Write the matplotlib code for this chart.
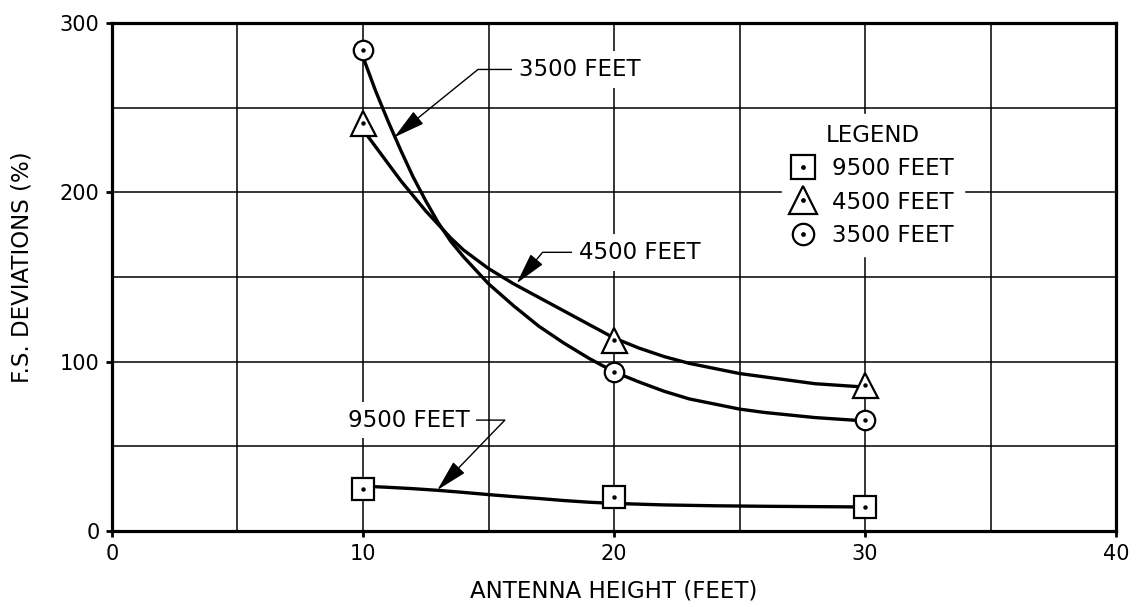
import matplotlib
matplotlib.use('Agg')
import matplotlib.pyplot as plt
from matplotlib.legend_handler import HandlerTuple

# marker readings
heights = [10, 20, 30]
dev_9500 = [25, 20, 14]
dev_4500 = [241, 113, 86]
dev_3500 = [284, 94, 65.5]

# faired curves
curve_9500_x = [10, 11, 12, 13, 14, 15, 16, 17, 18, 19, 20, 22, 24, 26, 28, 30]
curve_9500_y = [26.5, 25.8, 25, 24, 22.8, 21.5, 20.3, 19.2, 18, 17, 16.3, 15.4, 14.9, 14.6, 14.4, 14.2]
curve_4500_x = [10.2, 10.6, 11, 11.5, 12, 12.5, 13, 13.5, 14, 15, 16, 17, 18, 19, 20,
                21, 22, 23, 24, 25, 26, 27, 28, 29, 30]
curve_4500_y = [233, 225, 217, 207, 198, 189, 181, 173, 166, 155, 146, 138, 130, 122, 114,
                108, 103, 99, 96, 93, 91, 89, 87, 86, 85]
curve_3500_x = [10, 10.5, 11, 11.5, 12, 12.5, 13, 13.5, 14, 15, 16, 17, 18, 19, 20,
                21, 22, 23, 24, 25, 26, 27, 28, 29, 30]
curve_3500_y = [280, 260, 242, 225, 209, 195, 182, 171, 162, 146, 133, 121, 111, 102, 94,
                88, 82.5, 78, 75, 72, 70, 68.5, 67, 66, 65]

plt.rcParams['font.family'] = ['DejaVu Sans']

fig = plt.figure(figsize=(11.47, 6.07), dpi=100)
ax = fig.add_axes([0.0976, 0.1252, 0.8755, 0.8368])

ax.set_xlim(0, 40)
ax.set_ylim(0, 300)
ax.set_xticks([0, 10, 20, 30, 40])
ax.set_xticks([5, 15, 25, 35], minor=True)
ax.set_yticks([0, 100, 200, 300])
ax.set_yticks([50, 150, 250], minor=True)
ax.grid(True, which='both', color='black', lw=1.1, zorder=1)
ax.set_axisbelow(True)
ax.tick_params(which='major', direction='out', length=4, width=2, labelsize=15, pad=5)
ax.tick_params(which='minor', length=0)
for s in ax.spines.values():
    s.set_linewidth(2.3)

# curves
lw = 2.4
ax.plot(curve_9500_x, curve_9500_y, color='black', lw=lw, zorder=3)
ax.plot(curve_4500_x, curve_4500_y, color='black', lw=lw, zorder=3)
ax.plot(curve_3500_x, curve_3500_y, color='black', lw=lw, zorder=3)

# markers
mk = dict(color='black', ls='none', mfc='white', mec='black', mew=1.6, zorder=4)
sq, = ax.plot(heights, dev_9500, marker='s', ms=16, **mk)
tri, = ax.plot(heights, dev_4500, marker='^', ms=18, **mk)
circ, = ax.plot(heights, dev_3500, marker='o', ms=14, **mk)
dot = dict(color='black', ls='none', marker='o', ms=2.2, zorder=5)
d1, = ax.plot(heights, dev_9500, **dot)
d2, = ax.plot(heights, dev_4500, **dot)
d3, = ax.plot(heights, dev_3500, **dot)

# callouts
fs = 16.5
box = dict(boxstyle='square,pad=0.3', fc='white', ec='none')
arw = dict(arrowstyle='-|>,head_length=1.2,head_width=0.3', color='black', lw=1.0,
           shrinkA=0, shrinkB=0)
ax.annotate('3500 FEET', xy=(11.24, 232.5), xytext=(16.2, 272.6), fontsize=fs,
            va='center', ha='left', bbox=box, zorder=6,
            arrowprops=dict(arw, connectionstyle='angle,angleA=180,angleB=39,rad=0'))
ax.annotate('4500 FEET', xy=(16.12, 146.3), xytext=(18.6, 164.6), fontsize=fs,
            va='center', ha='left', bbox=box, zorder=6,
            arrowprops=dict(arw, connectionstyle='angle,angleA=180,angleB=50,rad=0'))
ax.annotate('9500 FEET', xy=(12.96, 24.2), xytext=(14.24, 65.5), fontsize=fs,
            va='center', ha='right', bbox=box, zorder=6,
            arrowprops=dict(arw, connectionstyle='angle,angleA=0,angleB=46,rad=0'))

# legend
leg = ax.legend([(sq, d1), (tri, d2), (circ, d3)],
                ['9500 FEET', '4500 FEET', '3500 FEET'],
                handler_map={tuple: HandlerTuple(ndivide=1)},
                title='LEGEND', fontsize=fs, title_fontsize=fs,
                loc='upper left', bbox_to_anchor=(0.667, 0.82), borderaxespad=0,
                frameon=True, fancybox=False, framealpha=1, facecolor='white',
                edgecolor='white', handlelength=1.0, handletextpad=0.8,
                borderpad=0.41, labelspacing=0.45, markerscale=1.1)
leg.set_zorder(6)

ax.set_xlabel('ANTENNA HEIGHT (FEET)', fontsize=fs)
ax.set_ylabel('F.S. DEVIATIONS (%)', fontsize=fs)
ax.xaxis.set_label_coords(0.5, -0.095)
ax.yaxis.set_label_coords(-0.078, 0.52)

fig.savefig('out.png', dpi=100, facecolor='white')
